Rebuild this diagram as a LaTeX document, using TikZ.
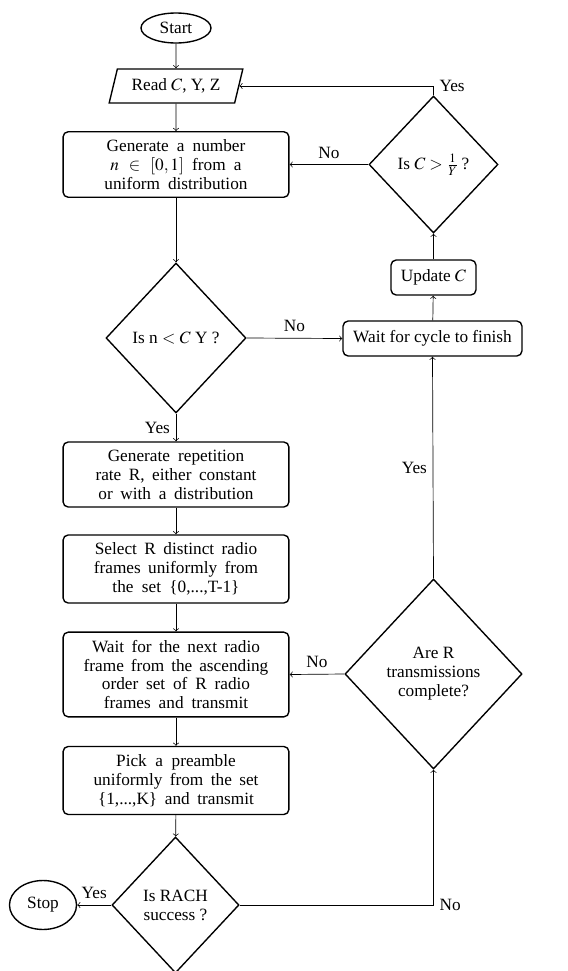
\documentclass[tikz,border=0pt]{standalone}
\usepackage{mathptmx}
\usepackage{fontspec}
\setmainfont{Liberation Serif}
\usetikzlibrary{shapes.geometric}

\tikzset{
	terminal/.style={ellipse, draw, thick, inner sep=1pt},
	io/.style={trapezium, trapezium left angle=75, trapezium right angle=105, trapezium stretches=true, draw, thick, minimum width=78pt, minimum height=19.7pt},
	process/.style={rectangle, rounded corners=3pt, draw, thick, text width=108pt, inner xsep=11.5pt, inner ysep=4.5pt, align=center, execute at begin node={\spaceskip=4pt plus 1pt minus 0.5pt\relax}},
	smallbox/.style={rectangle, rounded corners=3pt, draw, thick, minimum height=20.3pt},
	decision/.style={diamond, draw, thick, inner sep=0pt, align=center},
	flow/.style={->, thin}
}

\begin{document}
\begin{tikzpicture}[x=0.58pt, y=-0.58pt, font=\fontsize{10}{11}\selectfont]
	\useasboundingbox (0,0) rectangle (568,971);
	% left column
	\node[terminal, minimum width=40.6pt, minimum height=17.4pt] (start) at (176,28) {Start};
	\node[io] (read) at (176,86) {Read $C$, Y, Z};
	\node[process] (gen) at (176,164.5) {Generate a number\\ $n\;\in\;[0,1]$ from a\\ uniform distribution};
	\node[decision, minimum width=81.2pt, minimum height=87pt] (isless) at (176,338) {Is n $<$ $C$ Y ?};
	\node[process] (genrate) at (176,474.5) {Generate repetition\\ rate R, either constant\\ or with a distribution};
	\node[process] (select) at (176,569) {Select R distinct radio\\ frames uniformly from\\ the set \{0,...,T-1\}};
	\node[process] (waitnext) at (176,674.5) {Wait for the next radio\\ frame from the ascending\\ order set of R radio\\ frames and transmit};
	\node[process] (pick) at (176,780.5) {Pick a preamble\\ uniformly from the set\\ \{1,...,K\} and transmit};
	\node[decision, minimum width=73.7pt, minimum height=78.9pt] (issucc) at (175.5,905) {Is RACH\\ success ?};
	\node[terminal, minimum width=38.9pt, minimum height=28.4pt] (stop) at (43,905) {Stop};
	% right column
	\node[decision, minimum width=74.8pt, minimum height=79.5pt] (isgt) at (433.5,164.5) {Is $C>\frac{1}{Y}$\,?};
	\node[smallbox, minimum width=49.3pt] (upd) at (433.5,277.5) {Update $C$};
	\node[smallbox, minimum width=103.8pt] (waitcyc) at (432.5,338.5) {Wait for cycle to finish};
	\node[decision, minimum width=102.7pt, minimum height=110.2pt] (areR) at (433.5,674) {Are R\\ transmissions\\ complete?};

	% main flow
	\draw[flow] (start) -- (read);
	\draw[flow] (read) -- (gen);
	\draw[flow] (gen) -- (isless);
	\draw[flow] (isless) -- node[left] {Yes} (genrate);
	\draw[flow] (genrate) -- (select);
	\draw[flow] (select) -- (waitnext);
	\draw[flow] (waitnext) -- (pick);
	\draw[flow] (pick) -- (issucc);
	\draw[flow] (issucc.west) -- node[above] {Yes} (stop.east);
	% loops back
	\draw[flow] (isless.east) -- node[above] {No} (waitcyc.west);
	\draw[flow] (issucc.east) -| node[pos=0.5, right] {No} (areR.south);
	\draw[flow] (areR.west) -- node[above] {No} (waitnext.east);
	\draw[flow] (areR.north) -- node[left] {Yes} (waitcyc.south);
	\draw[flow] (waitcyc) -- (upd);
	\draw[flow] (upd) -- (isgt);
	\draw[flow] (isgt.west) -- node[above] {No} (gen.east);
	\draw[flow] (isgt.north) |- node[pos=0.5, right] {Yes} (read.east);
\end{tikzpicture}
\end{document}
